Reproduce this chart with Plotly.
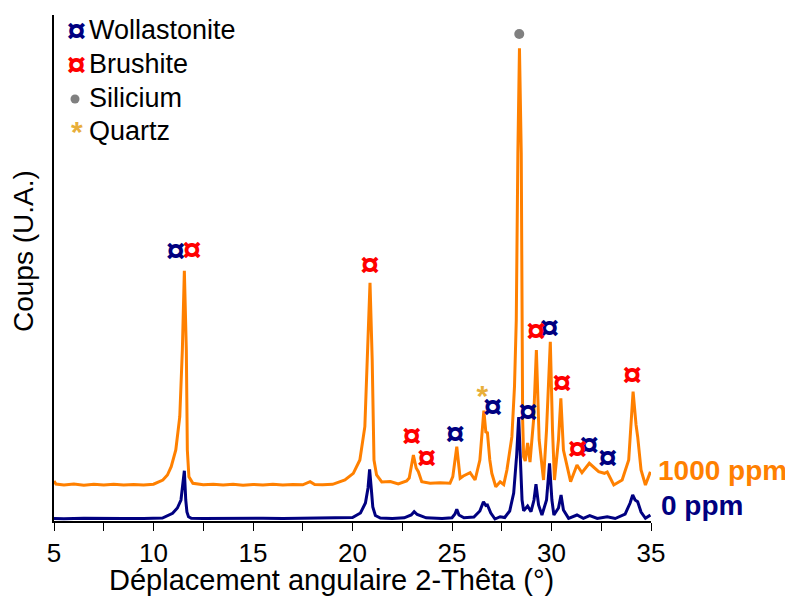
import plotly.graph_objects as go

# ---------------- data ----------------
two_theta_0ppm = [5.0, 5.5, 6.5, 7.5, 8.5, 9.5, 10.0, 10.45, 10.96, 11.2, 11.38, 11.48, 11.55, 11.62, 11.68,
                  11.76, 11.9, 12.5, 13.5, 14.5, 15.5, 16.5, 17.5, 18.5, 19.5, 20.0, 20.4, 20.65, 20.78,
                  20.86, 20.95, 21.02, 21.15, 21.4, 22.0, 22.6, 22.95, 23.1, 23.25, 23.45, 23.7, 24.5, 25.0,
                  25.15, 25.24, 25.35, 25.6, 26.1, 26.4, 26.58, 26.7, 26.78, 26.95, 27.16, 27.42, 27.65,
                  27.9, 28.1, 28.25, 28.35, 28.45, 28.52, 28.6, 28.8, 28.97, 29.12, 29.22, 29.35, 29.52,
                  29.75, 29.9, 30.02, 30.12, 30.35, 30.48, 30.6, 30.86, 31.28, 31.6, 31.92, 32.3, 32.8,
                  33.2, 33.7, 33.95, 34.08, 34.2, 34.33, 34.5, 34.72, 34.97]
counts_0ppm = [2.5, 2.2, 2.7, 2.3, 2.6, 2.4, 2.7, 3.0, 7.7, 13, 21, 36, 50.3, 21, 9,
               4.3, 2.7, 2.5, 2.8, 2.4, 2.7, 2.5, 2.8, 2.5, 2.7, 3.5, 8, 18, 33,
               51.7, 31, 14, 5.5, 3, 2.6, 3.2, 6, 9.3, 6.5, 5, 3.2, 2.6, 3.2,
               7, 11.7, 6, 3.2, 4, 10, 19.3, 15.5, 16, 8, 2, 4.3, 3.5,
               10, 28, 66, 104, 51, 21, 10.3, 15, 9.3, 21, 36.7, 16, 6,
               21, 57.7, 21, 6, 13, 26, 11, 2.7, 6, 2.7, 5.3, 2.5, 4.3,
               2.5, 7, 18, 26, 21, 19.3, 9, 2.7, 6]

two_theta_1000ppm = [5.0, 5.1, 5.5, 6.0, 6.5, 7.0, 7.5, 8.0, 8.5, 9.0, 9.5, 10.0, 10.47, 10.7, 10.89,
                     11.12, 11.32, 11.45, 11.55, 11.65, 11.7, 11.78, 11.98, 12.5, 13.0, 13.5, 14.0, 14.5,
                     15.0, 15.5, 16.0, 16.5, 17.0, 17.5, 17.87, 18.1, 18.5, 19.0, 19.62, 20.04, 20.37,
                     20.62, 20.74, 20.88, 20.99, 21.08, 21.21, 21.47, 21.9, 22.3, 22.72, 22.85, 23.06,
                     23.2, 23.31, 23.48, 23.9, 24.4, 24.9, 25.04, 25.24, 25.41, 25.57, 25.91, 26.16,
                     26.4, 26.6, 26.7, 26.78, 26.9, 27.0, 27.2, 27.42, 27.6, 27.76, 28.01, 28.14, 28.23,
                     28.31, 28.39, 28.48, 28.53, 28.55, 28.6, 28.68, 28.8, 28.92, 29.1, 29.24, 29.38,
                     29.6, 29.75, 29.94, 30.05, 30.15, 30.35, 30.47, 30.6, 30.96, 31.28, 31.53, 31.9,
                     32.37, 32.66, 32.8, 33.13, 33.55, 33.88, 34.1, 34.25, 34.33, 34.5, 34.72, 34.97]
counts_1000ppm = [40, 37, 36, 37, 35.8, 36.7, 36, 36.8, 36, 36.5, 36, 36.8, 41, 46, 54.3,
                  71, 104.3, 171, 250.3, 171, 71, 44.3, 37.7, 36.2, 36.8, 36, 36.7, 35.8,
                  36.6, 36, 36.7, 36, 36.5, 36.2, 39.3, 36.4, 36.2, 36.7, 41, 47.7, 61,
                  94.3, 161, 238.3, 161, 61, 46, 39, 39.5, 37, 40, 43, 66,
                  53, 49.3, 39.3, 37.7, 38.3, 37.7, 44.3, 74.3, 42.7, 45, 48.3, 41,
                  61, 110.3, 89, 88.3, 61, 47.7, 34.3, 39.3, 36.5, 51, 84.3, 134.3, 201,
                  368, 472.7, 368, 201, 101, 64.3, 60, 78, 59, 101, 171, 81,
                  41, 91, 179.3, 91, 41, 81, 122.7, 71, 39.3, 56, 48.3, 57.7,
                  49.3, 47.7, 49, 36, 41, 61, 129.3, 96, 84.3, 51, 36, 49.3]

wollastonite_x = [11.11, 25.16, 27.05, 28.82, 29.90, 31.90, 32.82]
wollastonite_y = [267.7, 85, 111.7, 106.7, 191, 73.3, 61]
brushite_x = [11.93, 20.88, 22.98, 23.73, 29.22, 30.53, 31.31, 34.05]
brushite_y = [268.3, 253.7, 82.7, 60.3, 187.7, 136, 69.3, 143.7]
silicium_x = [28.38]
silicium_y = [487]
quartz_x = [26.53]
quartz_y = [123]

x_tick_values = [5, 10, 15, 20, 25, 30, 35]
legend_names = ["Wollastonite", "Brushite", "Silicium", "Quartz"]
series_names = ["1000 ppm", "0 ppm"]

# ---------------- styling ----------------
FONT = "Liberation Sans, Arial, sans-serif"
ORANGE = "#FF8000"
NAVY = "#000080"
RED = "#FF0000"
GRAY = "#808080"
GOLD = "#E8AE3A"

OFF = 8                      # page body margin
W, H = 793, 600
PW, PH = 597, 506
L, T = 54 - OFF, 15 - OFF
R, B = W - L - PW, H - T - PH


def px(x):
    # reference-screen pixel x -> paper fraction
    return (x - OFF - L) / PW


def py(y):
    # reference-screen pixel y -> paper fraction
    return (T + PH - (y - OFF)) / PH


fig = go.Figure()

fig.add_trace(go.Scatter(x=two_theta_1000ppm, y=counts_1000ppm, mode="lines",
                         line=dict(color=ORANGE, width=3), showlegend=False, hoverinfo="skip"))
fig.add_trace(go.Scatter(x=two_theta_0ppm, y=counts_0ppm, mode="lines",
                         line=dict(color=NAVY, width=3), showlegend=False, hoverinfo="skip"))

SYM_SIZE = 34
for xs, ys, col in [(wollastonite_x, wollastonite_y, NAVY), (brushite_x, brushite_y, RED)]:
    fig.add_trace(go.Scatter(x=xs, y=ys, mode="text", text=["¤"] * len(xs), textposition="middle center",
                             textfont=dict(family=FONT, size=SYM_SIZE, color=col, weight="bold"),
                             showlegend=False, cliponaxis=False, hoverinfo="skip"))
fig.add_trace(go.Scatter(x=silicium_x, y=silicium_y, mode="markers",
                         marker=dict(color=GRAY, size=10, line=dict(width=0)),
                         showlegend=False, cliponaxis=False, hoverinfo="skip"))
fig.add_trace(go.Scatter(x=quartz_x, y=quartz_y, mode="text", text=["*"],
                         textposition="middle center",
                         textfont=dict(family=FONT, size=30, color=GOLD, weight="bold"),
                         showlegend=False, cliponaxis=False, hoverinfo="skip"))

ann = []
shapes = []

# legend (manual)
legend_rows = [(legend_names[0], "¤", NAVY, 30), (legend_names[1], "¤", RED, 64),
               (legend_names[2], "dot", GRAY, 98), (legend_names[3], "*", GOLD, 131)]
for name, sym, col, yc in legend_rows:
    ann.append(dict(text=name, x=px(87), y=py(yc), xref="paper", yref="paper", xanchor="left",
                    yanchor="middle", showarrow=False, font=dict(family=FONT, size=27, color="black")))
    if sym == "¤":
        ann.append(dict(text="<b>¤</b>", x=px(76), y=py(yc), xref="paper", yref="paper", xanchor="center",
                        yanchor="middle", showarrow=False, font=dict(family=FONT, size=SYM_SIZE, color=col)))
    elif sym == "dot":
        shapes.append(dict(type="circle", xref="paper", yref="paper", xsizemode="pixel", ysizemode="pixel",
                           xanchor=px(75), yanchor=py(99), x0=-4.5, x1=4.5, y0=-4.5, y1=4.5,
                           fillcolor=col, line=dict(width=0)))
    else:
        ann.append(dict(text="<b>*</b>", x=px(77), y=py(131), xref="paper", yref="paper", xanchor="center",
                        yanchor="middle", showarrow=False, font=dict(family=FONT, size=30, color=col)))

# series labels
ann.append(dict(text="<b>" + series_names[0] + "</b>", x=px(656), y=py(470), xref="paper", yref="paper",
                xanchor="left", yanchor="middle", showarrow=False,
                font=dict(family=FONT, size=28, color=ORANGE)))
ann.append(dict(text="<b>" + series_names[1] + "</b>", x=px(659), y=py(505), xref="paper", yref="paper",
                xanchor="left", yanchor="middle", showarrow=False,
                font=dict(family=FONT, size=28, color=NAVY)))

# axis titles
ann.append(dict(text="Déplacement angulaire 2-Thêta (°)", x=px(331), y=py(580), xref="paper", yref="paper",
                xanchor="center", yanchor="middle", showarrow=False,
                font=dict(family=FONT, size=29, color="black")))
ann.append(dict(text="Coups (U.A.)", x=px(23), y=py(251), xref="paper", yref="paper", textangle=-90,
                xanchor="center", yanchor="middle", showarrow=False,
                font=dict(family=FONT, size=28, color="black")))

fig.update_layout(
    width=W, height=H, margin=dict(l=L, r=R, t=T, b=B, autoexpand=False),
    paper_bgcolor="white", plot_bgcolor="white",
    annotations=ann, shapes=shapes, showlegend=False,
    xaxis=dict(range=[5, 35], tickvals=x_tick_values, ticks="outside", ticklen=8, tickwidth=1,
               tickcolor="black", showline=True, linecolor="black", linewidth=1.5, showgrid=False,
               zeroline=False, automargin=False, tickfont=dict(family=FONT, size=26, color="black"),
               minor=dict(dtick=2.5, tick0=5, ticks="outside", ticklen=8, tickwidth=1, tickcolor="black",
                          showgrid=False)),
    yaxis=dict(range=[0, 506], showline=True, linecolor="black", linewidth=1.5, showticklabels=False,
               ticks="", showgrid=False, zeroline=False, automargin=False),
)

fig.write_html("out.html")
